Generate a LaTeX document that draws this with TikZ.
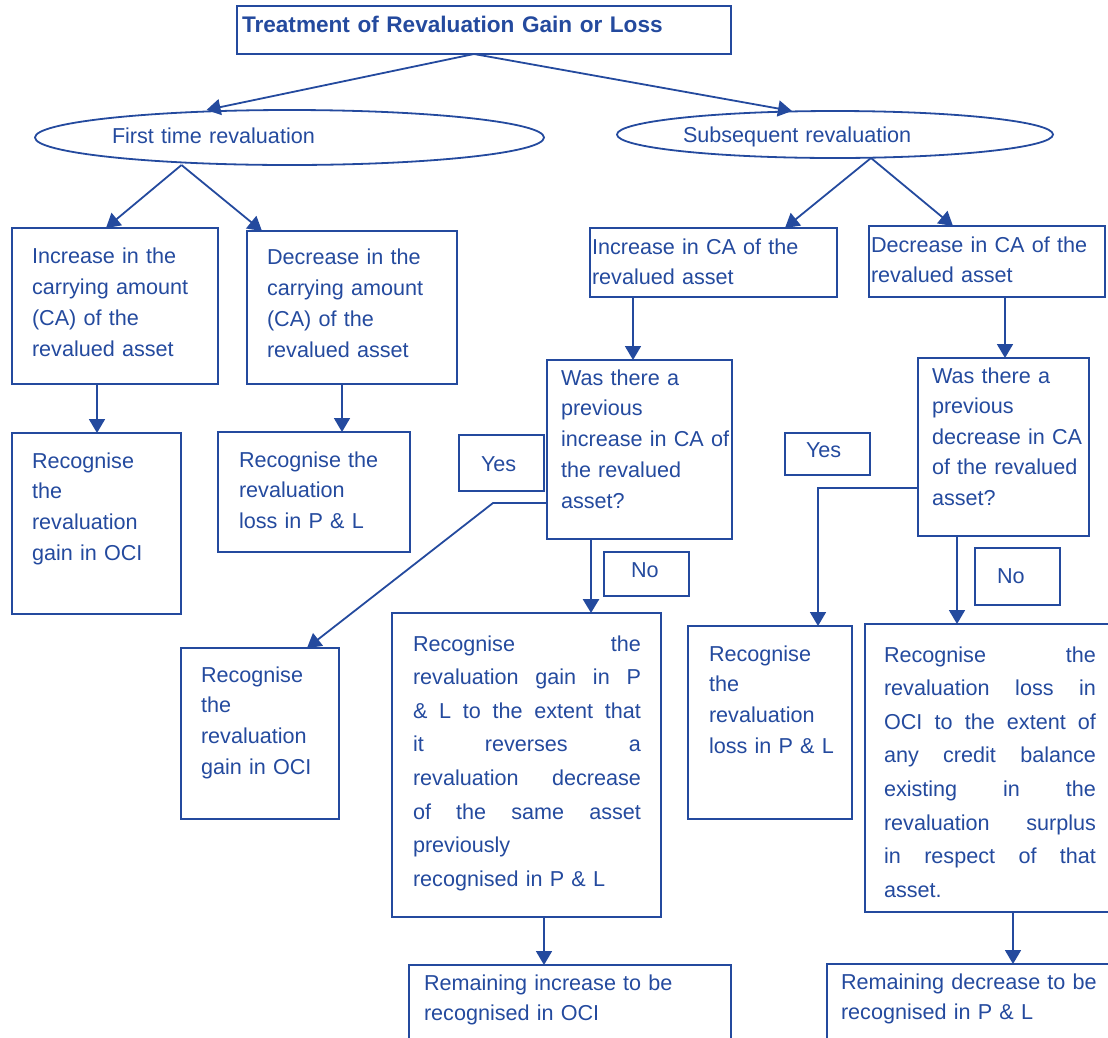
\documentclass[tikz,border=0pt]{standalone}
\usepackage{fontspec}
\setmainfont{Liberation Sans}
\usetikzlibrary{arrows.meta,shapes.geometric,fit}
\definecolor{ink}{RGB}{36,74,158}
% one justified line of a given width: the word gaps stretch to fill it
\newcommand{\jl}[2]{\leavevmode\hbox to #1{\spaceskip=\fontdimen2\font plus 1fil\relax #2}}

\begin{document}
\begin{tikzpicture}[x=1pt,y=-1pt,
  every node/.style={inner sep=0pt,outer sep=0pt},
  box/.style={draw=ink,line width=1.8pt,rectangle},
  oval/.style={draw=ink,line width=1.8pt,ellipse},
  txt/.style={anchor=base west,text=ink,align=left,text width=300pt},
  lead/.style={font=\fontsize{21.6}{#1}\selectfont},
  arr/.style={draw=ink,line width=1.8pt,-{Triangle[width=16pt,length=14pt]}},
  link/.style={draw=ink,line width=1.8pt}
]
\useasboundingbox (0,0) rectangle (1108,1037);
\clip (0,0) rectangle (1108,1037);

% ---------- title and the two kinds of revaluation ----------
\node[box,line width=1.4pt,fit={(237,6) (731,54)}] (title) {};
\node[txt,text width=480pt,font=\fontsize{22.6}{27}\selectfont\bfseries] (ttitle) at (242,32)
  {Treatment of Revaluation Gain or Loss};

\node[oval,minimum width=509pt,minimum height=55pt] (e1) at (289.5,137.5) {};
\node[txt,lead=27] (te1) at (112,143) {First time revaluation};
\node[oval,minimum width=436pt,minimum height=47pt] (e2) at (835,134.5) {};
\node[txt,lead=27] (te2) at (683,142) {Subsequent revaluation};

% ---------- first time revaluation ----------
\node[box,fit={(12,228) (218,384)}] (b1) {};
\node[txt,lead=31] (tb1) at (32,263)
  {Increase in the\\carrying amount\\(CA) of the\\revalued asset};
\node[box,fit={(247,231) (457,384)}] (b2) {};
\node[txt,lead=31] (tb2) at (267,264)
  {Decrease in the\\carrying amount\\(CA) of the\\revalued asset};
\node[box,fit={(12,433) (181,614)}] (b3) {};
\node[txt,lead=30.7] (tb3) at (32,468)
  {Recognise\\the\\revaluation\\gain in OCI};
\node[box,fit={(218,432) (410,552)}] (b4) {};
\node[txt,lead=30.5] (tb4) at (239,467)
  {Recognise the\\revaluation\\loss in P \& L};

% ---------- subsequent revaluation ----------
\node[box,fit={(590,228) (837,297)}] (b5) {};
\node[txt,lead=30] (tb5) at (592,254) {Increase in CA of the\\revalued asset};
\node[box,fit={(869,226) (1105,297)}] (b6) {};
\node[txt,lead=30] (tb6) at (871,252) {Decrease in CA of the\\revalued asset};

\node[box,fit={(547,360) (732,539)}] (q1) {};
\node[txt,lead=30.8] (tq1) at (561,385)
  {Was there a\\previous\\increase in CA of\\the revalued\\asset?};
\node[box,fit={(918,358) (1089,536)}] (q2) {};
\node[txt,lead=30.5] (tq2) at (932,383)
  {Was there a\\previous\\decrease in CA\\of the revalued\\asset?};

\node[box,fit={(459,435) (544,491)}] (yes1) {};
\node[txt,lead=27] (tyes1) at (481,471) {Yes};
\node[box,fit={(785,433) (870,475)}] (yes2) {};
\node[txt,lead=27] (tyes2) at (806,457) {Yes};
\node[box,fit={(604,552) (689,596)}] (no1) {};
\node[txt,lead=27] (tno1) at (631,577) {No};
\node[box,fit={(975,548) (1060,605)}] (no2) {};
\node[txt,lead=27] (tno2) at (997,583) {No};

\node[box,fit={(181,648) (339,819)}] (r1) {};
\node[txt,lead=30.7] (tr1) at (201,682)
  {Recognise\\the\\revaluation\\gain in OCI};
\node[box,fit={(392,613) (661,917)}] (r2) {};
\node[txt,lead=33.6] (tr2) at (413,651)
  {\jl{228pt}{Recognise the}\\
   \jl{228pt}{revaluation gain in P}\\
   \jl{228pt}{\& L to the extent that}\\
   \jl{228pt}{it reverses a}\\
   \jl{228pt}{revaluation decrease}\\
   \jl{228pt}{of the same asset}\\
   previously\\
   recognised in P \& L};
\node[box,fit={(688,626) (852,819)}] (r3) {};
\node[txt,lead=30.7] (tr3) at (709,661)
  {Recognise\\the\\revaluation\\loss in P \& L};
\node[box,fit={(865,624) (1130,912)}] (r4) {};
\node[txt,lead=33.6] (tr4) at (884,662)
  {\jl{212pt}{Recognise the}\\
   \jl{212pt}{revaluation loss in}\\
   \jl{212pt}{OCI to the extent of}\\
   \jl{212pt}{any credit balance}\\
   \jl{212pt}{existing in the}\\
   \jl{212pt}{revaluation surplus}\\
   \jl{212pt}{in respect of that}\\
   asset.};

\node[box,fit={(409,965) (731,1050)}] (m1) {};
\node[txt,lead=30] (tm1) at (424,990) {Remaining increase to be\\recognised in OCI};
\node[box,fit={(827,964) (1130,1050)}] (m2) {};
\node[txt,lead=30] (tm2) at (841,989) {Remaining decrease to be\\recognised in P \& L};

% ---------- connectors ----------
\draw[arr] ([xshift=-10pt]title.south) -- ([xshift=-83pt]e1.north);
\draw[arr] ([xshift=-10pt]title.south) -- ([xshift=-43pt]e2.north);

\draw[arr] ([xshift=-108pt]e1.south) -- ([xshift=-9pt]b1.north);
\draw[arr] ([xshift=-108pt]e1.south) -- ([xshift=-90pt]b2.north);
\draw[arr] ([xshift=36pt]e2.south) -- ([xshift=71.5pt]b5.north);
\draw[arr] ([xshift=36pt]e2.south) -- ([xshift=-34pt]b6.north);

\coordinate (v1) at (97,0);
\coordinate (v2) at (342,0);
\coordinate (v3) at (633,0);
\coordinate (v4) at (1005,0);
\coordinate (v5) at (591,0);
\coordinate (v6) at (957,0);
\coordinate (v7) at (544,0);
\coordinate (v8) at (1013,0);

\draw[arr] (v1 |- b1.south) -- (v1 |- b3.north);
\draw[arr] (v2 |- b2.south) -- (v2 |- b4.north);
\draw[arr] (v3 |- b5.south) -- (v3 |- q1.north);
\draw[arr] (v4 |- b6.south) -- (v4 |- q2.north);
\draw[arr,line width=2.8pt] (v5 |- q1.south) -- (v5 |- r2.north);
\draw[arr] (v6 |- q2.south) -- (v6 |- r4.north);
\draw[arr] (v7 |- r2.south) -- (v7 |- m1.north);
\draw[arr] (v8 |- r4.south) -- (v8 |- m2.north);

% "Yes" branches
\coordinate (k1) at (493,503);
\draw[arr] (q1.west |- k1) -- (k1) -- ([xshift=47pt]r1.north);
\coordinate (k2) at (818,488);
\draw[arr] (q2.west |- k2) -- (k2) -- (k2 |- r3.north);
\end{tikzpicture}
\end{document}
